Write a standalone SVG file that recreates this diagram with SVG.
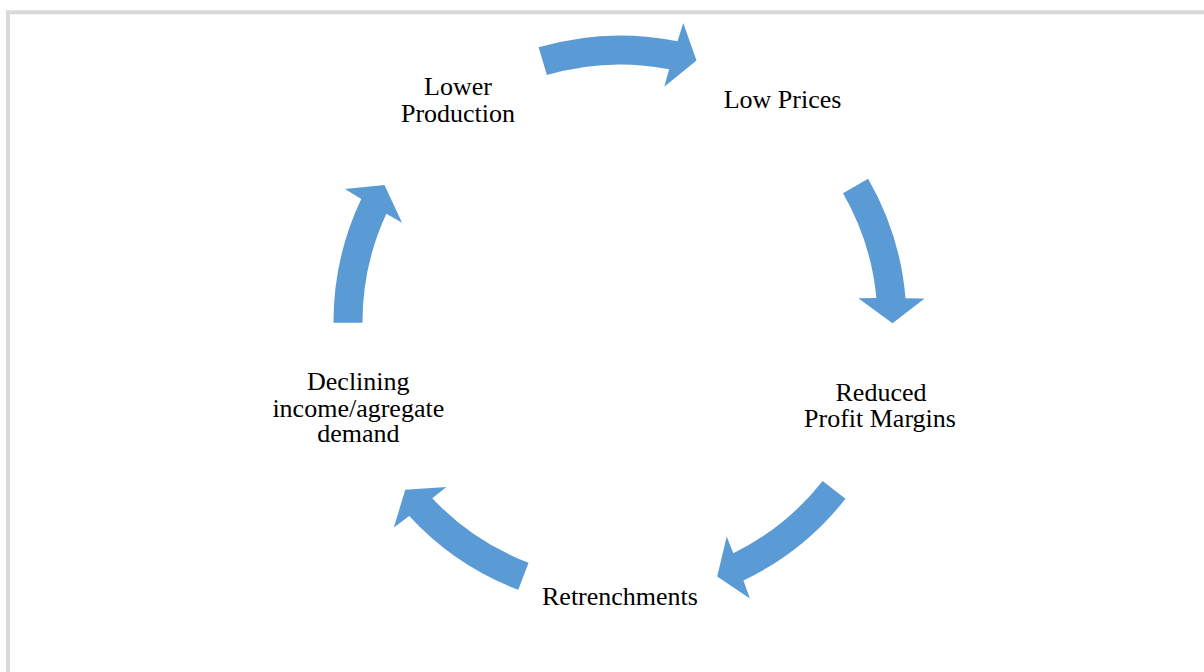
<svg xmlns="http://www.w3.org/2000/svg" width="1204" height="672" viewBox="0 0 1204 672">
<style>
.arrow{fill:#5b9bd5;stroke:none}
.lbl{font-family:"Liberation Serif","Times New Roman",serif;font-size:26px;fill:#000;text-anchor:middle}
</style>
<rect x="0" y="0" width="1204" height="672" fill="#ffffff"/>
<rect x="8" y="12.3" width="1210" height="680" fill="none" stroke="#d9d9d9" stroke-width="4"/>
<g id="connectors">
<path id="arrow-top" class="arrow" d="M538.63,47.30 A286.5,286.5 0 0 1 677.51,41.33 L683.26,23.12 L696.48,60.45 L664.26,86.63 L669.13,69.23 A257.5,257.5 0 0 0 546.86,75.10 Z"/>
<path id="arrow-right" class="arrow" d="M868.12,178.75 A286.5,286.5 0 0 1 905.51,298.17 L924.60,298.56 L892.50,323.28 L858.32,298.21 L876.38,298.01 A257.5,257.5 0 0 0 843.00,193.25 Z"/>
<path id="arrow-bottom-right" class="arrow" d="M845.46,498.78 A286.5,286.5 0 0 1 743.42,580.55 L749.83,598.54 L717.21,576.57 L726.68,536.43 L733.26,553.25 A257.5,257.5 0 0 0 822.64,480.89 Z"/>
<path id="arrow-bottom-left" class="arrow" d="M518.26,589.83 A286.5,286.5 0 0 1 409.20,516.02 L393.86,527.41 L405.27,489.77 L446.41,487.01 L432.27,498.25 A257.5,257.5 0 0 0 528.56,562.72 Z"/>
<path id="arrow-left" class="arrow" d="M333.5,322.75 A286.5,286.5 0 0 1 361.25,199.00 L344.95,189.04 L384.49,184.93 L402.06,222.68 L386.35,213.77 A257.5,257.5 0 0 0 362.5,322.67 Z"/>
</g>
<g id="node-lower-production">
<text class="lbl" x="458" y="95">Lower</text>
<text class="lbl" x="458" y="121.7">Production</text>
</g>
<g id="node-low-prices">
<text class="lbl" x="782.5" y="108.3">Low Prices</text>
</g>
<g id="node-reduced-profit-margins">
<text class="lbl" x="881" y="401">Reduced</text>
<text class="lbl" x="880" y="427.3">Profit Margins</text>
</g>
<g id="node-retrenchments">
<text class="lbl" x="620" y="605.3">Retrenchments</text>
</g>
<g id="node-declining">
<text class="lbl" x="358.3" y="390">Declining</text>
<text class="lbl" x="358.3" y="416.7">income/agregate</text>
<text class="lbl" x="358.3" y="442.3">demand</text>
</g>
</svg>
